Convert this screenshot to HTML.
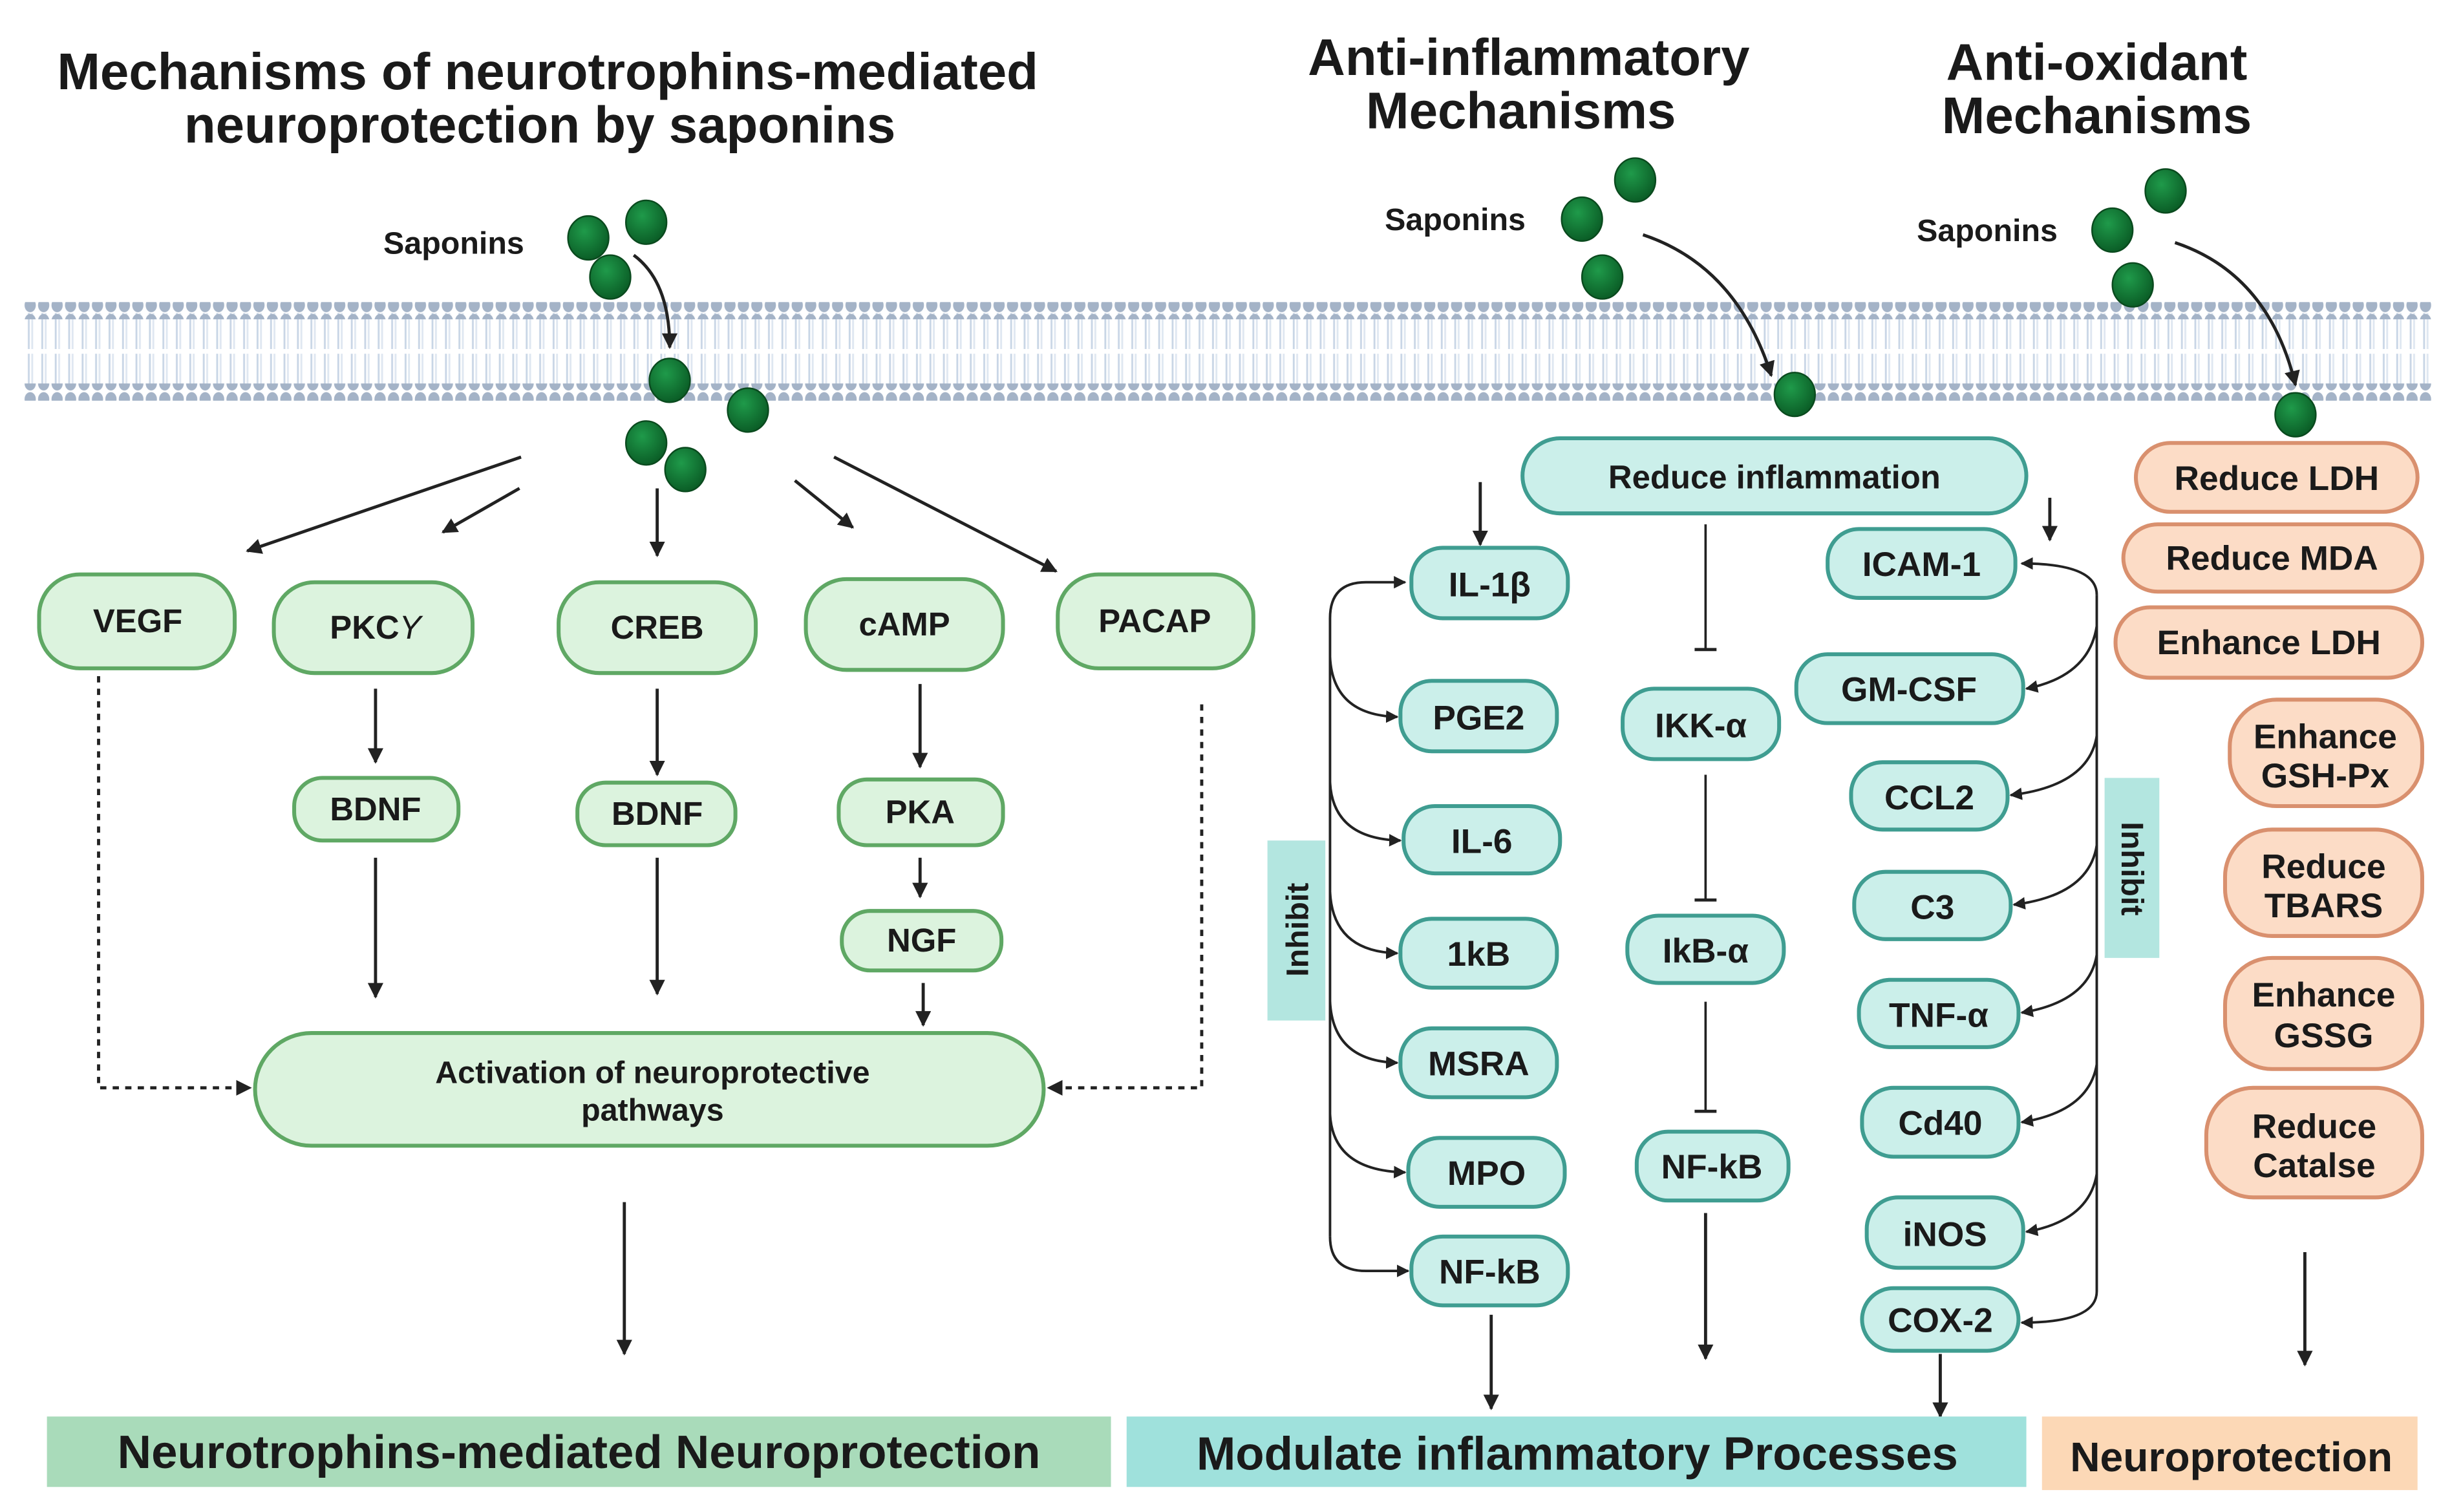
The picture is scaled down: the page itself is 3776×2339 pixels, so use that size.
<!DOCTYPE html>
<html><head><meta charset="utf-8"><style>
html,body{margin:0;padding:0;background:#fff}
svg{display:block}
text{font-family:"Liberation Sans",Arial,sans-serif;font-weight:bold;fill:#1a1a1a}
</style></head><body>
<svg width="3776" height="2339" viewBox="0 0 1560 966" preserveAspectRatio="none" xmlns="http://www.w3.org/2000/svg">
<defs>
<marker id="a" viewBox="0 0 10 10" refX="9" refY="5" markerWidth="5" markerHeight="5" orient="auto"><path d="M0,0L10,5L0,10z" fill="#222"/></marker>
<pattern id="heads" x="15" y="0" width="8.6" height="10" patternUnits="userSpaceOnUse"><ellipse cx="4.3" cy="5" rx="3.6" ry="4.5" fill="#a4b3c7"/></pattern>
<pattern id="tails" x="15" y="0" width="8.6" height="10" patternUnits="userSpaceOnUse"><rect x="2.8" y="0" width="1.2" height="10" fill="#c9d6e6"/><rect x="5" y="0" width="1.2" height="10" fill="#dfe7f1"/></pattern>
<radialGradient id="ball" cx="40%" cy="35%" r="65%"><stop offset="0" stop-color="#1f9a4a"/><stop offset="1" stop-color="#0b5e27"/></radialGradient>
</defs>
<rect width="1560" height="966" fill="#fff"/>

<!-- titles -->
<g font-size="33" text-anchor="middle">
<text x="350" y="57">Mechanisms of neurotrophins-mediated</text>
<text x="345" y="91">neuroprotection by saponins</text>
<text x="977" y="48">Anti-inflammatory</text>
<text x="972" y="82">Mechanisms</text>
<text x="1340" y="51">Anti-oxidant</text>
<text x="1340" y="85">Mechanisms</text>
</g>
<g font-size="20"><text x="245" y="162">Saponins</text><text x="885" y="147">Saponins</text><text x="1225" y="154">Saponins</text></g>

<!-- membrane -->
<rect x="15" y="200" width="1540" height="48" fill="url(#tails)"/>
<rect x="15" y="223" width="1540" height="3" fill="#fff"/>
<rect x="15" y="193" width="1540" height="11" fill="url(#heads)"/>
<rect x="15" y="245" width="1540" height="11" fill="url(#heads)"/>

<!-- saponin arrows -->
<g fill="none" stroke="#222" stroke-width="2" marker-end="url(#a)">
<path d="M405,163 Q428,180 428,222"/>
<path d="M1050,150 Q1110,170 1132,240"/>
<path d="M1390,155 Q1450,175 1467,246"/>
</g>
<g fill="url(#ball)" stroke="#0a4a1e" stroke-width="1">
<ellipse cx="376" cy="152" rx="13" ry="14"/><ellipse cx="413" cy="142" rx="13" ry="14"/><ellipse cx="390" cy="177" rx="13" ry="14"/>
<ellipse cx="428" cy="243" rx="13" ry="14"/><ellipse cx="478" cy="262" rx="13" ry="14"/><ellipse cx="413" cy="283" rx="13" ry="14"/><ellipse cx="438" cy="300" rx="13" ry="14"/>
<ellipse cx="1011" cy="140" rx="13" ry="14"/><ellipse cx="1045" cy="115" rx="13" ry="14"/><ellipse cx="1024" cy="177" rx="13" ry="14"/><ellipse cx="1147" cy="252" rx="13" ry="14"/>
<ellipse cx="1350" cy="147" rx="13" ry="14"/><ellipse cx="1384" cy="122" rx="13" ry="14"/><ellipse cx="1363" cy="182" rx="13" ry="14"/><ellipse cx="1467" cy="265" rx="13" ry="14"/>
</g>

<!-- left section arrows -->
<g stroke="#222" stroke-width="2" fill="none" marker-end="url(#a)">
<line x1="333" y1="292" x2="158" y2="352"/><line x1="332" y1="312" x2="283" y2="340"/>
<line x1="420" y1="312" x2="420" y2="355"/><line x1="508" y1="307" x2="545" y2="337"/>
<line x1="533" y1="292" x2="675" y2="365"/>
<line x1="240" y1="440" x2="240" y2="487"/><line x1="240" y1="548" x2="240" y2="637"/>
<line x1="420" y1="440" x2="420" y2="495"/><line x1="420" y1="548" x2="420" y2="635"/>
<line x1="588" y1="437" x2="588" y2="490"/><line x1="588" y1="548" x2="588" y2="573"/>
<line x1="590" y1="628" x2="590" y2="655"/>
<line x1="399" y1="768" x2="399" y2="865"/>
<path d="M63,432 V695 H160" stroke-dasharray="4,4"/>
<path d="M768,450 V695 H670" stroke-dasharray="4,4"/>
</g>

<!-- green nodes -->
<g fill="#dcf3de" stroke="#5fa864" stroke-width="2.5">
<rect x="25" y="367" width="125" height="60" rx="26"/>
<rect x="175" y="372" width="127" height="58" rx="26"/>
<rect x="357" y="372" width="126" height="58" rx="26"/>
<rect x="515" y="370" width="126" height="58" rx="26"/>
<rect x="676" y="367" width="125" height="60" rx="26"/>
<rect x="188" y="497" width="105" height="40" rx="18"/>
<rect x="369" y="500" width="101" height="40" rx="18"/>
<rect x="536" y="498" width="105" height="42" rx="18"/>
<rect x="538" y="582" width="102" height="38" rx="18"/>
<rect x="163" y="660" width="504" height="72" rx="36"/>
</g>
<g font-size="21" text-anchor="middle">
<text x="88" y="404">VEGF</text><text x="240" y="408">PKC<tspan font-style="italic" font-weight="normal">Y</tspan></text>
<text x="420" y="408">CREB</text><text x="578" y="406">cAMP</text><text x="738" y="404">PACAP</text>
<text x="240" y="524">BDNF</text><text x="420" y="527">BDNF</text><text x="588" y="526">PKA</text><text x="589" y="608">NGF</text>
<text x="417" y="692" font-size="20">Activation of neuroprotective</text><text x="417" y="716" font-size="20">pathways</text>
</g>

<!-- middle section -->
<g stroke="#222" stroke-width="2" fill="none">
<line x1="946" y1="308" x2="946" y2="348" marker-end="url(#a)"/>
<line x1="1310" y1="318" x2="1310" y2="345" marker-end="url(#a)"/>
<line x1="1090" y1="335" x2="1090" y2="415" stroke-width="1.5"/><line x1="1083" y1="415" x2="1097" y2="415"/>
<line x1="1090" y1="495" x2="1090" y2="575" stroke-width="1.5"/><line x1="1083" y1="575" x2="1097" y2="575"/>
<line x1="1090" y1="640" x2="1090" y2="710" stroke-width="1.5"/><line x1="1083" y1="710" x2="1097" y2="710"/>
<line x1="1090" y1="775" x2="1090" y2="868" marker-end="url(#a)"/>
<line x1="953" y1="840" x2="953" y2="900" marker-end="url(#a)"/>
<line x1="1240" y1="865" x2="1240" y2="905" marker-end="url(#a)"/>
<line x1="1473" y1="800" x2="1473" y2="872" marker-end="url(#a)"/>
<g stroke-width="1.6">
<path d="M850,790 V395 Q850,372 873,372 H898" marker-end="url(#a)"/>
<path d="M850,790 Q850,812 873,812 H900" marker-end="url(#a)"/>
<path d="M850,420 Q852,457 893,458" marker-end="url(#a)"/>
<path d="M850,500 Q852,536 895,537" marker-end="url(#a)"/>
<path d="M850,570 Q852,608 893,609" marker-end="url(#a)"/>
<path d="M850,640 Q852,678 893,679" marker-end="url(#a)"/>
<path d="M850,712 Q852,748 898,749" marker-end="url(#a)"/>
<path d="M1340,380 Q1340,360 1292,360" marker-end="url(#a)"/>
<path d="M1340,380 V825 Q1340,845 1292,845" marker-end="url(#a)"/>
<path d="M1340,400 Q1335,432 1295,440" marker-end="url(#a)"/>
<path d="M1340,470 Q1335,502 1285,508" marker-end="url(#a)"/>
<path d="M1340,540 Q1335,572 1287,578" marker-end="url(#a)"/>
<path d="M1340,610 Q1335,640 1292,647" marker-end="url(#a)"/>
<path d="M1340,680 Q1335,710 1292,717" marker-end="url(#a)"/>
<path d="M1340,750 Q1335,780 1295,787" marker-end="url(#a)"/>
</g>
</g>
<rect x="810" y="537" width="37" height="115" fill="#b3e6e0"/>
<rect x="1345" y="497" width="35" height="115" fill="#b3e6e0"/>
<text x="0" y="0" font-size="20" text-anchor="middle" transform="translate(836,594) rotate(-90)">Inhibit</text>
<text x="0" y="0" font-size="20" text-anchor="middle" transform="translate(1356,555) rotate(90)">Inhibit</text>

<g fill="#cbefea" stroke="#3f9d91" stroke-width="2.5">
<rect x="973" y="280" width="322" height="48" rx="24"/>
<rect x="902" y="350" width="100" height="45" rx="20"/>
<rect x="895" y="435" width="100" height="45" rx="20"/>
<rect x="897" y="515" width="100" height="43" rx="20"/>
<rect x="895" y="587" width="100" height="44" rx="20"/>
<rect x="895" y="657" width="100" height="44" rx="20"/>
<rect x="900" y="727" width="100" height="44" rx="20"/>
<rect x="902" y="790" width="100" height="44" rx="20"/>
<rect x="1037" y="440" width="100" height="45" rx="20"/>
<rect x="1040" y="585" width="100" height="43" rx="20"/>
<rect x="1046" y="723" width="97" height="44" rx="20"/>
<rect x="1168" y="338" width="120" height="44" rx="20"/>
<rect x="1148" y="418" width="145" height="44" rx="20"/>
<rect x="1183" y="487" width="100" height="43" rx="20"/>
<rect x="1185" y="557" width="100" height="43" rx="20"/>
<rect x="1188" y="626" width="102" height="43" rx="20"/>
<rect x="1190" y="695" width="100" height="44" rx="20"/>
<rect x="1193" y="765" width="100" height="45" rx="20"/>
<rect x="1190" y="823" width="100" height="40" rx="20"/>
</g>
<g font-size="22" text-anchor="middle">
<text x="1134" y="312" font-size="21">Reduce inflammation</text>
<text x="952" y="381">IL-1β</text><text x="945" y="466">PGE2</text><text x="947" y="545">IL-6</text>
<text x="945" y="617">1kB</text><text x="945" y="687">MSRA</text><text x="950" y="757">MPO</text><text x="952" y="820">NF-kB</text>
<text x="1087" y="471">IKK-α</text><text x="1090" y="615">IkB-α</text><text x="1094" y="753">NF-kB</text>
<text x="1228" y="368">ICAM-1</text><text x="1220" y="448">GM-CSF</text><text x="1233" y="517">CCL2</text>
<text x="1235" y="587">C3</text><text x="1239" y="656">TNF-α</text><text x="1240" y="725">Cd40</text>
<text x="1243" y="796">iNOS</text><text x="1240" y="851">COX-2</text>
</g>

<!-- orange -->
<g fill="#fcdcc6" stroke="#d9906e" stroke-width="2.5">
<rect x="1365" y="283" width="180" height="44" rx="22"/>
<rect x="1357" y="335" width="191" height="43" rx="22"/>
<rect x="1352" y="388" width="196" height="45" rx="22"/>
<rect x="1425" y="447" width="123" height="68" rx="30"/>
<rect x="1422" y="530" width="126" height="68" rx="30"/>
<rect x="1422" y="612" width="126" height="71" rx="30"/>
<rect x="1410" y="695" width="138" height="70" rx="30"/>
</g>
<g font-size="22" text-anchor="middle">
<text x="1455" y="313">Reduce LDH</text><text x="1452" y="364">Reduce MDA</text><text x="1450" y="418">Enhance LDH</text>
<text x="1486" y="478">Enhance</text><text x="1486" y="503">GSH-Px</text>
<text x="1485" y="561">Reduce</text><text x="1485" y="586">TBARS</text>
<text x="1485" y="643">Enhance</text><text x="1485" y="669">GSSG</text>
<text x="1479" y="727">Reduce</text><text x="1479" y="752">Catalse</text>
</g>

<!-- banners -->
<rect x="30" y="905" width="680" height="45" fill="#a9dbba"/>
<rect x="720" y="905" width="575" height="45" fill="#9fe1dc"/>
<rect x="1305" y="905" width="240" height="47" fill="#fcd8b6"/>
<g font-size="30" text-anchor="middle">
<text x="370" y="938">Neurotrophins-mediated Neuroprotection</text>
<text x="1008" y="939">Modulate inflammatory Processes</text>
<text x="1426" y="940" font-size="26.5">Neuroprotection</text>
</g>
</svg>
</body></html>
